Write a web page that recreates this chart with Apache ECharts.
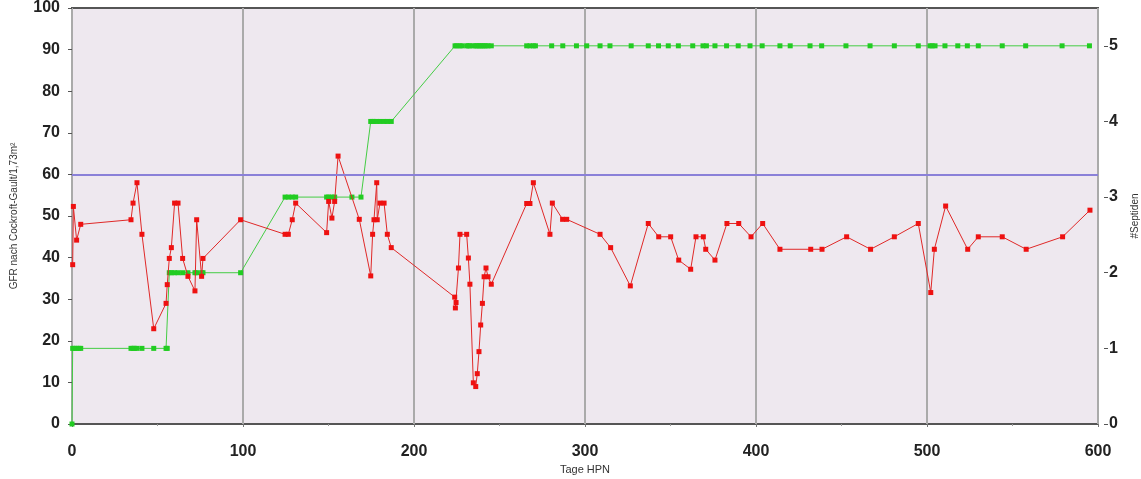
<!DOCTYPE html>
<html>
<head>
<meta charset="utf-8">
<script src="https://cdn.jsdelivr.net/npm/echarts@6/dist/echarts.min.js"></script>
<style>
html,body{margin:0;padding:0;background:#fff;}
#c{width:1141px;height:479px;}
</style>
</head>
<body>
<div id="c"></div>
<script>
// GFR (left axis)
var gfrDays = [0.4,0.8,2.7,5.1,34.5,35.7,38,40.9,47.8,55,55.7,56.9,58.1,60,62,64.7,67.8,71.9,72.9,75.8,76.6,
  98.6,124.6,126.5,128.8,130.8,148.9,150.1,152,153.6,155.6,168,174.7,175.8,176.6,178.2,178.5,180.1,182.5,184.4,186.7,
  223.8,224.6,224.2,226,226.9,230.8,231.8,232.7,234.7,236.1,237,238,239,240,241,242.1,243.3,245.2,
  265.9,267.8,269.8,279.5,280.9,286.9,289.3,308.8,315,326.5,337,343.1,350.1,354.8,361.8,364.9,369.2,370.6,376,
  383,389.9,397.1,403.9,414,432,438.6,453,467,480.9,494.9,502.2,504.3,510.9,523.8,530,544,558,579.3,595.3];
var gfrValues = [38.3,52.3,44.2,48.0,49.1,53.1,58.0,45.6,22.9,29.0,33.5,39.8,42.4,53.1,53.1,39.8,35.5,32.0,49.1,35.5,39.8,
  49.1,45.6,45.6,49.1,53.1,46.0,53.5,49.5,53.5,64.4,49.2,35.6,45.6,49.1,58.0,49.1,53.1,53.1,45.6,42.4,
  30.5,29.2,27.9,37.5,45.6,45.6,39.9,33.6,9.9,9.0,12.1,17.4,23.8,29.0,35.4,37.5,35.4,33.6,
  53.0,53.0,58.0,45.6,53.1,49.2,49.2,45.6,42.4,33.2,48.2,45.0,45.0,39.4,37.2,45.0,45.0,42.0,39.4,
  48.2,48.2,45.0,48.2,42.0,42.0,42.0,45.0,42.0,45.0,48.2,31.6,42.0,52.4,42.0,45.0,45.0,42.0,45.0,51.4];
// Septiden count (right axis)
var sepDays = [0,0.4,1.5,2.7,4,5.1,34.5,35.7,36.5,38,40.9,47.8,55,55.7,
  56.9,58.1,60,62,64.7,67.8,71.9,72.9,75.8,76.6,98.6,
  124.6,126.5,128.8,130.8,148.9,150.1,152,153.6,163.7,169,
  174.7,175.8,176.6,178.2,180.1,182.5,184.4,186.7,
  224,225,226.9,228,230.8,231.8,232.7,234.7,236.1,237,238,239,240,241,242.1,243.3,245.2,
  265.9,267.8,269.8,271,280.5,287,295,301,308.8,314.6,327,337,343,348.7,354.6,363,369,371,376,382.8,389.6,396.5,403.6,
  414,420,431.6,438.4,452.6,466.7,480.9,494.9,501.8,503,504.7,510.5,518,523.6,530,544,557.7,579,595];
var sepValues = [0,1,1,1,1,1,1,1,1,1,1,1,1,1,
  2,2,2,2,2,2,2,2,2,2,2,
  3,3,3,3,3,3,3,3,3,3,
  4,4,4,4,4,4,4,4,
  5,5,5,5,5,5,5,5,5,5,5,5,5,5,5,5,5,
  5,5,5,5,5,5,5,5,5,5,5,5,5,5,5,5,5,5,5,5,5,5,5,
  5,5,5,5,5,5,5,5,5,5,5,5,5,5,5,5,5,5,5];
var xTicks = [0,100,200,300,400,500,600];
var gfrTicks = [0,10,20,30,40,50,60,70,80,90,100];
var sepTicks = [0,1,2,3,4,5];
var threshold = 60;

function pairs(xs, ys){ return xs.map(function(x,i){ return [x, ys[i]]; }); }

var chart = echarts.init(document.getElementById('c'), null, {renderer:'canvas'});
var labelFont = {fontFamily:'Liberation Sans, Arial, sans-serif', fontWeight:'bold', fontSize:16, color:'#222'};
chart.setOption({
  animation:false,
  grid:{left:72, right:43, top:8, bottom:55, containLabel:false, outerBoundsMode:'none',
    show:true, backgroundColor:'#EEE8EF', borderColor:'#555', borderWidth:2},
  xAxis:{
    type:'value', min:0, max:600, interval:100, offset:12,
    name:'Tage HPN', nameLocation:'middle', nameGap:28,
    nameTextStyle:{fontFamily:'Liberation Sans, Arial, sans-serif', fontSize:11, color:'#333'},
    axisLine:{show:false},
    axisTick:{show:true, length:3, lineStyle:{color:'#777'}},
    minorTick:{show:true, splitNumber:2, length:2, lineStyle:{color:'#999'}},
    axisLabel:Object.assign({margin:8, customValues:xTicks}, labelFont),
    splitLine:{show:true, lineStyle:{color:'#AAAAAA', width:2}}
  },
  yAxis:[{
    type:'value', min:0, max:100, interval:10, offset:8, position:'left',
    name:'GFR nach Cockroft-Gault/1,73m²', nameLocation:'middle', nameGap:45, nameRotate:90,
    nameTextStyle:{fontFamily:'Liberation Sans, Arial, sans-serif', fontSize:10, color:'#333'},
    axisLine:{show:false},
    axisTick:{show:true, length:4, lineStyle:{color:'#555'}},
    axisLabel:Object.assign({margin:4, customValues:gfrTicks}, labelFont),
    splitLine:{show:false}
  },{
    type:'value', min:0, max:5.5, offset:6, position:'right',
    name:'#Septiden', nameLocation:'middle', nameGap:26, nameRotate:90,
    nameTextStyle:{fontFamily:'Liberation Sans, Arial, sans-serif', fontSize:10, color:'#333'},
    axisLine:{show:false},
    axisTick:{show:true, length:4, customValues:sepTicks, lineStyle:{color:'#555'}},
    axisLabel:Object.assign({margin:5, customValues:sepTicks}, labelFont),
    splitLine:{show:false}
  }],
  series:[{
    type:'line', yAxisIndex:1, data:pairs(sepDays, sepValues),
    symbol:'rect', symbolSize:5, z:3,
    lineStyle:{color:'#44CC44', width:1},
    itemStyle:{color:'#22CC22'}
  },{
    type:'line', yAxisIndex:0, data:pairs(gfrDays, gfrValues),
    symbol:'rect', symbolSize:5, z:4,
    lineStyle:{color:'#E02828', width:1},
    itemStyle:{color:'#EE1111'},
    markLine:{silent:true, symbol:['none','none'], label:{show:false},
      lineStyle:{color:'#8A80D8', width:2, type:'solid'},
      data:[{yAxis:threshold}]}
  }]
});
</script>
</body>
</html>
